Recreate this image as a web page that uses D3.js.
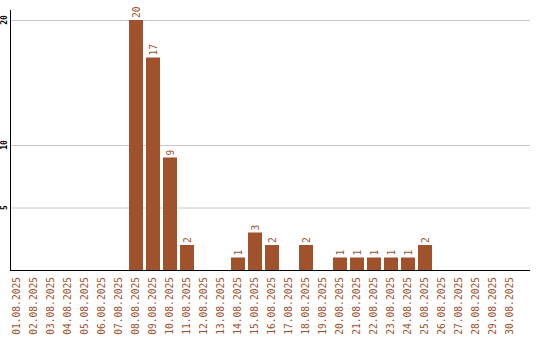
<!DOCTYPE html>
<html>
<head>
<meta charset="utf-8">
<script src="https://cdn.jsdelivr.net/npm/d3@7"></script>
<style>
  body { margin: 0; background: #fff; }
  svg { display: block; }
  text { font-family: 'DejaVu Sans Mono', 'Liberation Mono', monospace; }
</style>
</head>
<body>
<svg id="chart" width="540" height="340"></svg>
<script>
// categories (days of August 2025)
let days = ['01.08.2025', '02.08.2025', '03.08.2025', '04.08.2025', '05.08.2025',
	'06.08.2025', '07.08.2025', '08.08.2025', '09.08.2025', '10.08.2025',
	'11.08.2025', '12.08.2025', '13.08.2025', '14.08.2025', '15.08.2025',
	'16.08.2025', '17.08.2025', '18.08.2025', '19.08.2025', '20.08.2025',
	'21.08.2025', '22.08.2025', '23.08.2025', '24.08.2025', '25.08.2025',
	'26.08.2025', '27.08.2025', '28.08.2025', '29.08.2025', '30.08.2025'];
let counts = [0, 0, 0, 0, 0, 0, 0, 20, 17, 9,
	2, 0, 0, 1, 3, 2, 0, 2, 0, 1,
	1, 1, 1, 1, 2, 0, 0, 0, 0, 0];
let yTicks = [5, 10, 20];

let svg = d3.select('#chart');
let plotLeft = 10, plotRight = 530, plotTop = 10, plotBottom = 270;
let brown = '#a0522d';

let x = d3.scaleBand()
	.domain(days)
	.range([plotLeft, 520])
	.paddingInner(3 / 17)
	.paddingOuter(3 / 34)
	.align(0);

let y = d3.scaleLinear()
	.domain([0, 20])
	.range([plotBottom, 20]);

// grid lines
svg.append('g')
	.selectAll('line')
	.data(yTicks)
	.enter().append('line')
	.attr('x1', plotLeft)
	.attr('x2', plotRight)
	.attr('y1', d => y(d) + 0.5)
	.attr('y2', d => y(d) + 0.5)
	.attr('stroke', '#c8c8c8');

// y tick labels
svg.append('g')
	.selectAll('text')
	.data(yTicks)
	.enter().append('text')
	.attr('transform', d => `translate(7,${y(d)}) rotate(-90)`)
	.attr('text-anchor', 'middle')
	.style('font-size', '8px')
	.style('font-weight', 'bold')
	.text(d => d);

let data = days.map((d, i) => ({ day: d, value: counts[i] }));
let shown = data.filter(d => d.value > 0);

// bars
svg.append('g')
	.selectAll('rect')
	.data(shown)
	.enter().append('rect')
	.attr('x', d => x(d.day))
	.attr('y', d => y(d.value))
	.attr('width', x.bandwidth())
	.attr('height', d => y(0) - y(d.value))
	.attr('fill', brown);

// value labels
svg.append('g')
	.selectAll('text')
	.data(shown)
	.enter().append('text')
	.attr('transform', d => `translate(${x(d.day) + x.bandwidth() / 2 + 3.5},${y(d.value) - 2}) rotate(-90)`)
	.attr('fill', brown)
	.style('font-size', '9.6px')
	.text(d => d.value);

// axis lines
svg.append('line')
	.attr('x1', plotLeft + 0.5).attr('x2', plotLeft + 0.5)
	.attr('y1', plotTop).attr('y2', plotBottom)
	.attr('stroke', '#000');
svg.append('line')
	.attr('x1', plotLeft).attr('x2', plotRight)
	.attr('y1', plotBottom + 0.5).attr('y2', plotBottom + 0.5)
	.attr('stroke', '#000');

// x labels
svg.append('g')
	.selectAll('text')
	.data(days)
	.enter().append('text')
	.attr('transform', d => `translate(${x(d) + x.bandwidth() / 2 + 2.5},${plotBottom + 7}) rotate(-90)`)
	.attr('text-anchor', 'end')
	.attr('fill', brown)
	.style('font-size', '9.6px')
	.text(d => d);
</script>
</body>
</html>
